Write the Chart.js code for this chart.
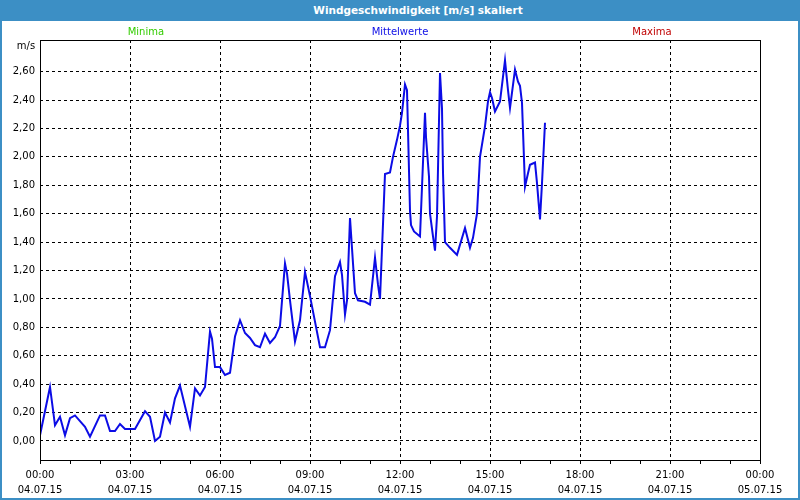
<!DOCTYPE html>
<html>
<head>
<meta charset="utf-8">
<script src="https://cdn.jsdelivr.net/npm/chart.js@4.4.0/dist/chart.umd.min.js"></script>
<style>
body { margin: 0; background: #fff; }
#box { position: relative; width: 800px; height: 500px; overflow: hidden; }
#myChart { position: absolute; left: 0; top: 0; }
#titlebar { position: absolute; left: 0; top: 0; width: 800px; height: 21px; box-sizing: border-box; padding-left: 36px;
  background: #3c8fc5; color: #fff; font: bold 10.5px "DejaVu Sans", sans-serif; line-height: 21px; text-align: center; }
#frame { position: absolute; left: 0; top: 0; width: 800px; height: 500px; box-sizing: border-box;
  border: 2px solid #3c8fc5; pointer-events: none; }
</style>
</head>
<body>
<div id="box">
  <canvas id="myChart" width="800" height="500"></canvas>
  <div id="titlebar">Windgeschwindigkeit [m/s] skaliert</div>
  <div id="frame"></div>
</div>
<script>
// Zeit in Minuten ab 04.07.15 00:00
var minutes = [0, 20, 30, 40, 50, 60, 70, 80, 90, 100, 120, 130, 140, 150, 160, 170, 190, 210, 220, 230,
  240, 250, 260, 270, 280, 300, 310, 320, 330, 340, 344, 350, 360, 370, 380, 390, 400, 410, 420, 430,
  440, 450, 460, 470, 480, 490, 494, 500, 510, 520, 530, 540, 560, 570, 580, 590, 600, 604, 610, 614,
  620, 626, 630, 636, 650, 660, 670, 676, 680, 690, 700, 706, 714, 720, 724, 730, 734, 740, 742, 748,
  760, 770, 772, 778, 780, 786, 790, 794, 800, 804, 806, 810, 820, 834, 850, 860, 866, 874, 880, 890,
  896, 900, 904, 910, 920, 930, 936, 940, 950, 956, 960, 964, 970, 976, 980, 990, 994, 1000, 1004, 1010];

// Mittelwerte in m/s
var mittelwerte = [0.04, 0.38, 0.11, 0.17, 0.04, 0.16, 0.18, 0.14, 0.10, 0.03, 0.18, 0.18, 0.07, 0.07, 0.12, 0.085, 0.085, 0.21, 0.17, 0.00,
  0.03, 0.20, 0.13, 0.30, 0.39, 0.10, 0.37, 0.32, 0.38, 0.77, 0.72, 0.52, 0.52, 0.465, 0.48, 0.735, 0.85, 0.76, 0.725, 0.675,
  0.66, 0.755, 0.69, 0.73, 0.81, 1.25, 1.18, 0.99, 0.70, 0.85, 1.19, 1.02, 0.66, 0.66, 0.78, 1.16, 1.26, 1.17, 0.89, 0.99,
  1.57, 1.25, 1.04, 0.99, 0.98, 0.96, 1.29, 1.10, 1.00, 1.88, 1.89, 2.00, 2.12, 2.22, 2.31, 2.51, 2.47, 1.62, 1.52, 1.475,
  1.44, 2.31, 2.14, 1.86, 1.60, 1.44, 1.34, 1.58, 2.59, 2.34, 1.89, 1.40, 1.36, 1.31, 1.50, 1.36, 1.43, 1.60, 2.00, 2.215,
  2.39, 2.455, 2.415, 2.32, 2.39, 2.68, 2.47, 2.345, 2.615, 2.53, 2.50, 2.38, 1.79, 1.885, 1.945, 1.96, 1.815, 1.56, 1.815, 2.24];

var minima = [];
var maxima = [];

var yTicks = [0, 0.2, 0.4, 0.6, 0.8, 1.0, 1.2, 1.4, 1.6, 1.8, 2.0, 2.2, 2.4, 2.6];
var xTicks = [0, 180, 360, 540, 720, 900, 1080, 1260, 1440];
var xTickTimes = ['00:00', '03:00', '06:00', '09:00', '12:00', '15:00', '18:00', '21:00', '00:00'];
var xTickDates = ['04.07.15', '04.07.15', '04.07.15', '04.07.15', '04.07.15', '04.07.15', '04.07.15', '04.07.15', '05.07.15'];

var hourMarks = [];
for (var h = 0; h <= 1440; h += 60) hourMarks.push(h);

var tickFont = { family: '"DejaVu Sans", sans-serif', size: 10 };

// legend texts, unit and frame
var extras = {
  id: 'extras',
  afterDraw: function (chart) {
    var ctx = chart.ctx;
    var a = chart.chartArea;
    var pos = [0.147, 0.5, 0.85];
    ctx.save();
    ctx.strokeStyle = '#000';
    ctx.lineWidth = 1;
    ctx.strokeRect(a.left + 0.5, a.top + 0.5, a.right - a.left, a.bottom - a.top);
    ctx.font = '10px "DejaVu Sans", sans-serif';
    ctx.textAlign = 'center';
    ctx.textBaseline = 'middle';
    chart.data.datasets.forEach(function (ds, i) {
      ctx.fillStyle = ds.borderColor;
      ctx.fillText(ds.label, a.left + pos[i] * (a.right - a.left), 32);
    });
    ctx.fillStyle = '#000';
    ctx.fillText('m/s', 26, 46);
    ctx.restore();
  }
};

var ctx = document.getElementById('myChart').getContext('2d');
var chart = new Chart(ctx, {
  type: 'line',
  data: {
    datasets: [{
      label: 'Minima',
      borderColor: '#33cc00',
      data: minima
    }, {
      label: 'Mittelwerte',
      borderColor: '#0c0ce6',
      borderWidth: 2,
      pointRadius: 0,
      tension: 0,
      fill: false,
      data: minutes.map(function (m, i) { return { x: m, y: mittelwerte[i] }; })
    }, {
      label: 'Maxima',
      borderColor: '#c00000',
      data: maxima
    }]
  },
  options: {
    responsive: false,
    animation: false,
    layout: { padding: { left: 0, top: 40, right: 40, bottom: 0 } },
    plugins: { legend: { display: false }, title: { display: false }, tooltip: { enabled: false } },
    scales: {
      x: {
        type: 'linear',
        min: 0,
        max: 1440,
        afterBuildTicks: function (axis) {
          axis.ticks = hourMarks.map(function (v) { return { value: v }; });
        },
        afterFit: function (axis) { axis.height = 40; },
        border: { display: false, dash: [3, 3] },
        grid: {
          color: function (c) {
            return c.tick && xTicks.indexOf(c.tick.value) >= 0 ? '#000' : 'rgba(0,0,0,0)';
          },
          tickColor: '#000',
          tickLength: 4,
          tickBorderDash: []
        },
        ticks: {
          autoSkip: false,
          maxRotation: 0,
          padding: 4,
          color: '#000',
          font: { family: '"DejaVu Sans", sans-serif', size: 10, lineHeight: 1.5 },
          callback: function (v) {
            var i = xTicks.indexOf(v);
            if (i < 0) return '';
            return [xTickTimes[i], xTickDates[i]];
          }
        }
      },
      y: {
        min: -0.134,
        max: 2.823,
        afterBuildTicks: function (axis) {
          axis.ticks = yTicks.map(function (v) { return { value: v }; });
        },
        afterFit: function (axis) { axis.width = 40; },
        border: { display: false, dash: [3, 3] },
        grid: { color: '#000', drawTicks: false },
        ticks: {
          padding: 5,
          color: '#000',
          font: tickFont,
          callback: function (v) { return v.toFixed(2).replace('.', ','); }
        }
      }
    }
  },
  plugins: [extras]
});
</script>
</body>
</html>
